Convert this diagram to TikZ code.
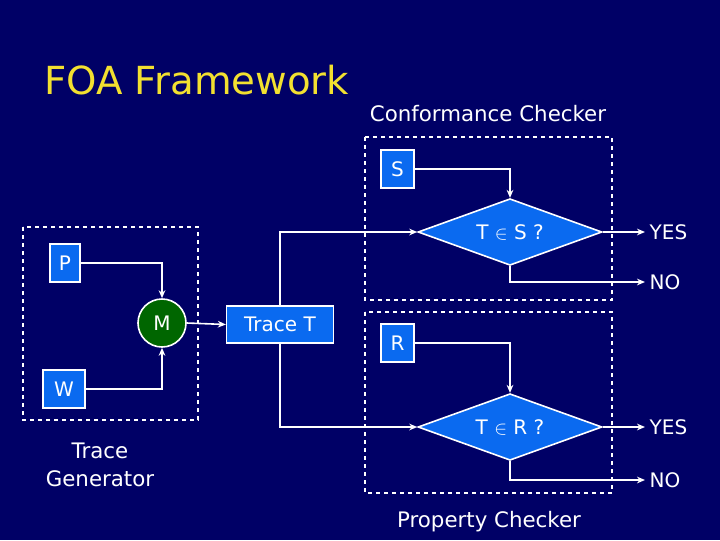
\documentclass[tikz,border=0pt]{standalone}
\usepackage{fontspec}
\setmainfont{DejaVu Sans}
\usetikzlibrary{shapes.geometric,arrows.meta}
\definecolor{bg}{HTML}{000066}
\definecolor{bx}{HTML}{0A6AF0}
\definecolor{mg}{HTML}{006600}
\definecolor{ttl}{HTML}{F2E030}
\begin{document}
\begin{tikzpicture}[x=0.75pt,y=-0.75pt,
  box/.style={draw=white,fill=bx,line width=1.2pt,text=white,inner sep=0pt,font=\fontsize{15}{18}\selectfont},
  dia/.style={diamond,aspect=2.75,draw=white,fill=bx,line width=1.2pt,text=white,inner sep=0pt,font=\fontsize{15}{18}\selectfont},
  dbox/.style={draw=white,dashed,line width=1pt},
  ln/.style={draw=white,line width=1.2pt},
  arr/.style={ln,-{Stealth[length=6pt,width=5pt]}},
  lbl/.style={text=white,font=\fontsize{15}{18}\selectfont}]
\fill[bg] (0,0) rectangle (720,540);
\useasboundingbox (0,0) rectangle (720,540);
\node[text=ttl,font=\fontsize{29}{34}\selectfont,anchor=west,inner sep=0pt] (title) at (44,80) {FOA Framework};
\node[lbl,font=\fontsize{16}{19}\selectfont] (cc) at (488,114) {Conformance Checker};
\node[lbl,font=\fontsize{16}{19}\selectfont] (pc) at (489,522) {Property Checker};
\node[lbl,align=center,font=\fontsize{16}{21}\selectfont] (tg) at (100,465) {Trace\\Generator};
% dashed boxes
\draw[dbox] (23,227) rectangle (198,420);
\draw[dbox] (365,137) rectangle (612,300);
\draw[dbox] (365,312) rectangle (612,493);
% nodes
\node[box,minimum width=22.5pt,minimum height=28.5pt] (P) at (65,263) {P};
\node[box,minimum width=31.5pt,minimum height=28.5pt] (W) at (64,389) {W};
\node[circle,draw=white,fill=mg,line width=1.2pt,minimum size=36pt,inner sep=0pt,text=white,font=\fontsize{15}{18}\selectfont] (M) at (162,323) {M};
\node[box,minimum width=80pt,minimum height=28pt] (T) at (280,324.5) {Trace T};
\node[box,minimum width=25pt,minimum height=28.5pt] (S) at (397.5,169) {S};
\node[box,minimum width=25pt,minimum height=28.5pt] (R) at (397.5,343) {R};
\node[dia,minimum width=138pt,minimum height=50pt] (D1) at (510,232) {T $\in$ S ?};
\node[dia,minimum width=138pt,minimum height=50pt] (D2) at (510,427) {T $\in$ R ?};
\node[lbl,anchor=west] (Y1) at (645,232) {YES};
\node[lbl,anchor=west] (N1) at (645,282) {NO};
\node[lbl,anchor=west] (Y2) at (645,427) {YES};
\node[lbl,anchor=west] (N2) at (645,480) {NO};
% connectors
\draw[arr] (P.east) -| (M.north);
\draw[arr] (W.east) -| (M.south);
\draw[arr] (M.east) -- (T.west);
\draw[arr] (T.north) |- (D1.west);
\draw[arr] (T.south) |- (D2.west);
\draw[arr] (S.east) -| (D1.north);
\draw[arr] (R.east) -| (D2.north);
\draw[arr] (D1.east) -- (Y1.west);
\draw[arr] (D2.east) -- (Y2.west);
\draw[arr] (D1.south) |- (N1.west);
\draw[arr] (D2.south) |- (N2.west);
\end{tikzpicture}
\end{document}
